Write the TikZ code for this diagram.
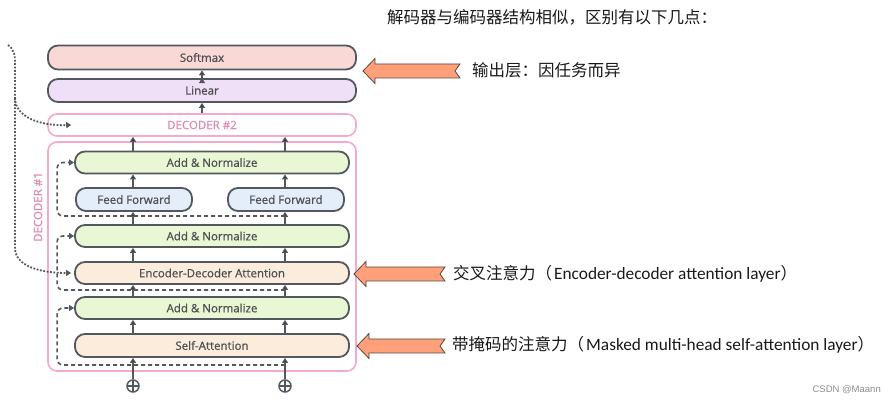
\documentclass[tikz,border=0pt]{standalone}
\usepackage{fontspec}
\setmainfont{Carlito}
\newfontfamily\cjk{Noto Sans CJK SC}
\newfontfamily\boxfont[FakeBold=0.9]{Open Sans}
\newfontfamily\markfont{Liberation Sans}
\usetikzlibrary{arrows.meta,positioning}

\definecolor{lineGray}{RGB}{83,87,94}
\definecolor{textGray}{RGB}{80,80,84}
\definecolor{decPink}{RGB}{243,170,205}
\definecolor{decText}{RGB}{222,135,178}
\definecolor{softFill}{RGB}{248,217,213}
\definecolor{linFill}{RGB}{239,224,247}
\definecolor{addFill}{RGB}{234,247,212}
\definecolor{ffFill}{RGB}{228,238,250}
\definecolor{attFill}{RGB}{252,236,220}
\definecolor{calloutFill}{RGB}{255,160,122}
\definecolor{calloutLine}{RGB}{90,70,62}

\newcommand{\callout}[2]{\draw[calloutbox] #1 -- ++(12,-12.5) -- ++(0,5.5) -- ++(#2-12,0) -- ++(-5,7) -- ++(5,7) -- ++(12-#2,0) -- ++(0,5.5) -- cycle;}
\newcommand{\latin}[1]{{\fontsize{17.3}{18}\selectfont #1}}

\begin{document}
\begin{tikzpicture}[x=1pt,y=-1pt,
	layer/.style={draw=lineGray,line width=1.8pt,rounded corners=10pt,minimum height=22pt,inner sep=0pt,
		font=\boxfont\fontsize{11.5}{13}\selectfont,text=textGray},
	wide/.style={layer,minimum width=274pt},
	ffbox/.style={layer,fill=ffFill,minimum width=116pt,minimum height=23pt},
	stack/.style={draw=decPink,line width=1.6pt,rounded corners=9pt},
	plusnode/.style={circle,draw=lineGray,line width=1.5pt,minimum size=12pt,inner sep=0pt,
		path picture={\draw[lineGray,line width=1.4pt] (path picture bounding box.west) -- (path picture bounding box.east)
			(path picture bounding box.north) -- (path picture bounding box.south);}},
	flow/.style={draw=lineGray,line width=1.6pt,-{Triangle[length=5pt,width=6pt]}},
	resid/.style={flow,dash pattern=on 4pt off 3pt,rounded corners=6pt},
	crossline/.style={flow,line width=1.8pt,dash pattern=on 1.8pt off 1.6pt},
	calloutbox/.style={fill=calloutFill,draw=calloutLine,line width=0.8pt,line join=miter},
	note/.style={inner sep=0pt,font=\fontsize{16.5}{18}\selectfont,text=black!90},
	watermark/.style={inner sep=0pt,font=\markfont\fontsize{9.5}{11}\selectfont,text=black!45}]
	\useasboundingbox (0,0) rectangle (895,403);

	% output side
	\node[layer,fill=softFill,minimum width=308pt,minimum height=24pt] (softmax) at (202,57.5) {Softmax};
	\node[layer,fill=linFill,minimum width=308pt,minimum height=23pt]  (linear)  at (202,90.5) {Linear};
	\node[stack,minimum width=308pt,minimum height=22pt,inner sep=0pt,text=decText,
		font=\boxfont\fontsize{11.5}{13}\selectfont] (dec2) at (202,125) {DECODER \#2};

	% decoder #1
	\draw[stack] (48,142) rectangle (356,371);
	\node[rotate=90,text=decText,font=\boxfont\fontsize{11.5}{13}\selectfont] (dec1) at (38,207) {DECODER \#1};
	\node[wide,fill=addFill]  (addtop)  at (212,162.5) {Add \& Normalize};
	\node[ffbox]              (ffl)     at (134,199.5) {Feed Forward};
	\node[ffbox]              (ffr)     at (286,199.5) {Feed Forward};
	\node[wide,fill=addFill]  (addmid)  at (212,236)   {Add \& Normalize};
	\node[wide,fill=attFill]  (encdec)  at (212,273)   {Encoder-Decoder Attention};
	\node[wide,fill=addFill]  (addbot)  at (212,308)   {Add \& Normalize};
	\node[wide,fill=attFill,minimum height=23pt] (selfatt) at (212,345.5) {Self-Attention};
	\node[plusnode] (p1) at (133,386) {};
	\node[plusnode] (p2) at (285,386) {};

	\path[flow]
		(p1) edge (p1 |- selfatt.south)
		(p2) edge (p2 |- selfatt.south)
		(p1 |- selfatt.north) edge (p1 |- addbot.south)
		(p2 |- selfatt.north) edge (p2 |- addbot.south)
		(p1 |- addbot.north)  edge (p1 |- encdec.south)
		(p2 |- addbot.north)  edge (p2 |- encdec.south)
		(p1 |- encdec.north)  edge (p1 |- addmid.south)
		(p2 |- encdec.north)  edge (p2 |- addmid.south)
		(p1 |- addmid.north)  edge (p1 |- ffl.south)
		(p2 |- addmid.north)  edge (p2 |- ffr.south)
		(p1 |- ffl.north)     edge (p1 |- addtop.south)
		(p2 |- ffr.north)     edge (p2 |- addtop.south)
		(p1 |- addtop.north)  edge (p1 |- dec2.south)
		(p2 |- addtop.north)  edge (p2 |- dec2.south)
		(dec2.north)          edge (linear.south)
		(linear.north)        edge (softmax.south);

	% residual connections
	\coordinate (tapA) at (285,365);
	\coordinate (tapB) at (285,290);
	\coordinate (tapC) at (285,216);
	\draw[resid] (tapA) -| ([xshift=-17pt]addbot.west) -- (addbot.west);
	\draw[resid] (tapB) -| ([xshift=-17pt]addmid.west) -- (addmid.west);
	\draw[resid] (tapC) -| ([xshift=-17pt]addtop.west) -- (addtop.west);

	% encoder output
	\coordinate (encout) at (8,45);
	\coordinate (fork) at (15,98);
	\draw[crossline] (encout) .. controls (15,50) and (15,56) .. (15,66) -- (15,248)
		.. controls (15,266) and (40,273) .. ([xshift=-3pt]encdec.west);
	\draw[crossline] (fork) .. controls (15,116) and (38,126) .. ([xshift=24pt]dec2.west);

	% notes
	\callout{(363,71)}{97}
	\callout{(354,274)}{91}
	\callout{(357,346)}{88}
	\node[note,anchor=west] (title)     at (387,17)  {\cjk 解码器与编码器结构相似，区别有以下几点：};
	\node[note,anchor=west] (outnote)   at (472,70)  {\cjk 输出层：因任务而异};
	\node[note,anchor=west] (crossnote) at (453,274) {{\cjk 交叉注意力（}\hspace{2pt}\latin{Encoder-decoder attention layer}{\cjk ）}};
	\node[note,anchor=west] (masknote)  at (452,345) {{\cjk 带掩码的注意力（}\hspace{2pt}\latin{Masked multi-head self-attention layer}{\cjk ）}};
	\node[watermark,anchor=east] (mark) at (881,390) {CSDN @Maann};
\end{tikzpicture}
\end{document}
